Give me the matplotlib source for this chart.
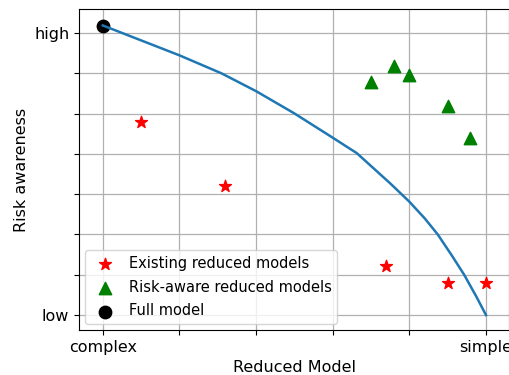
import numpy as np
import matplotlib
matplotlib.use("Agg")
import matplotlib.pyplot as plt

# trade-off frontier between model complexity and risk awareness
front_x = [0.0, 0.1, 0.2, 0.31, 0.4, 0.5, 0.6, 0.663, 0.75, 0.8,
           0.84, 0.874, 0.91, 0.943, 0.975, 1.0]
front_y = [1.027, 0.974, 0.921, 0.857, 0.794, 0.715, 0.629, 0.574, 0.467, 0.402,
           0.343, 0.286, 0.213, 0.143, 0.065, 0.0]

# existing reduced models
exist_x = [0.10, 0.32, 0.74, 0.90, 1.00]
exist_y = [0.683, 0.457, 0.174, 0.112, 0.112]

# risk-aware reduced models
aware_x = [0.70, 0.76, 0.80, 0.90, 0.958]
aware_y = [0.827, 0.884, 0.853, 0.742, 0.629]

# full model
full_x = [0.0]
full_y = [1.025]

xtick_pos = [0.0, 0.2, 0.4, 0.6, 0.8, 1.0]
xtick_labels = ["complex", "", "", "", "", "simple"]
ytick_pos = [k / 7 for k in range(8)]
ytick_labels = ["low", "", "", "", "", "", "", "high"]

fig = plt.figure(figsize=(5.1, 3.75), dpi=100)
ax = fig.add_axes([0.155, 0.12, 0.843, 0.855])

ax.scatter(exist_x, exist_y, marker="*", s=80, color="red", label="Existing reduced models")
ax.scatter(aware_x, aware_y, marker="^", s=80, color="green", label="Risk-aware reduced models")
ax.scatter(full_x, full_y, marker="o", s=80, color="black", label="Full model")
ax.plot(front_x, front_y, color="#1f77b4", linewidth=1.8, solid_joinstyle="round")

ax.set_xlim(-0.062, 1.06)
ax.set_ylim(-0.053, 1.084)
ax.set_xticks(xtick_pos)
ax.set_xticklabels(xtick_labels, fontsize=11.5)
ax.set_yticks(ytick_pos)
ax.set_yticklabels(ytick_labels, fontsize=11.5)
ax.grid(True, color="#b0b0b0", linewidth=0.9)
ax.set_axisbelow(True)

ax.set_xlabel("Reduced Model", fontsize=11.5)
ax.set_ylabel("Risk awareness", fontsize=11.5)

ax.legend(loc="lower left", fontsize=10.5, handletextpad=0.6, borderaxespad=0.4,
          labelspacing=0.6)

fig.savefig("out.png", dpi=100)
